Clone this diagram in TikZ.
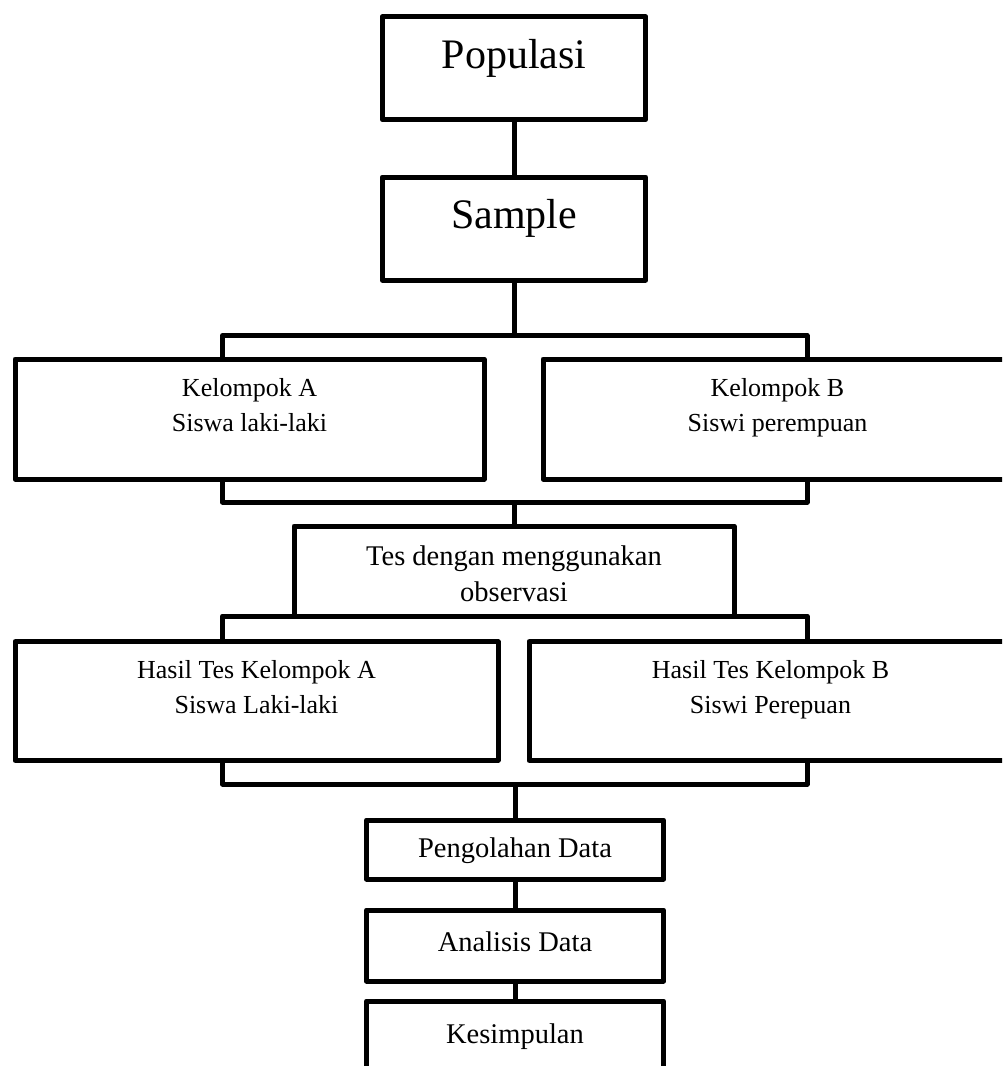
\documentclass[tikz,border=0pt]{standalone}
\usepackage{fontspec}
\setmainfont{Liberation Serif}
\begin{document}
\begin{tikzpicture}[x=1pt,y=-1pt,line join=round,
  box/.style={draw=black, line width=5pt, inner sep=0pt, outer sep=0pt},
  link/.style={draw=black, line width=5pt},
  tbig/.style={font=\fontsize{42}{48}\selectfont, inner sep=0pt, anchor=base},
  tmid/.style={font=\fontsize{28.5}{34}\selectfont, inner sep=0pt, anchor=base},
  tsml/.style={font=\fontsize{26}{31}\selectfont, inner sep=0pt, anchor=base}]
\useasboundingbox (0,0) rectangle (1002,1066);
\fill[white] (0,0) rectangle (1002,1066);
\clip (0,0) rectangle (1002,1066);

% boxes
\node[box, minimum width=263.5pt, minimum height=103pt] (pop) at (514,68.2) {};
\node[box, minimum width=263.5pt, minimum height=103pt] (sam) at (514,228.5) {};
\node[box, minimum width=469pt, minimum height=120pt] (kA) at (249.5,419) {};
\node[box, minimum width=469pt, minimum height=120pt] (kB) at (777.5,419) {};
\node[box, minimum width=440pt, minimum height=90pt] (tes) at (514,571) {};
\node[box, minimum width=483pt, minimum height=118.5pt] (hA) at (256.5,701) {};
\node[box, minimum width=483pt, minimum height=118.5pt] (hB) at (770.5,701) {};
\node[box, minimum width=297.3pt, minimum height=59pt] (peng) at (515,849.5) {};
\node[box, minimum width=297.3pt, minimum height=71pt] (ana) at (515,945.5) {};
\node[box, minimum width=297.3pt, minimum height=74pt] (kes) at (515,1038) {};

% texts
\node[tbig] (tPop) at (pop.center |- 0,68) {Populasi};
\node[tbig] (tSam) at (sam.center |- 0,228) {Sample};
\node[tsml] (tKA1) at (kA.center |- 0,396) {Kelompok A};
\node[tsml] (tKA2) at (kA.center |- 0,431.5) {Siswa laki-laki};
\node[tsml] (tKB1) at (kB.center |- 0,396) {Kelompok B};
\node[tsml] (tKB2) at (kB.center |- 0,431.5) {Siswi perempuan};
\node[tmid] (tTes1) at (tes.center |- 0,565) {Tes dengan menggunakan};
\node[tmid] (tTes2) at (tes.center |- 0,601.5) {observasi};
\node[tsml] (tHA1) at (hA.center |- 0,678.5) {Hasil Tes Kelompok A};
\node[tsml] (tHA2) at (hA.center |- 0,713) {Siswa Laki-laki};
\node[tsml] (tHB1) at (hB.center |- 0,678.5) {Hasil Tes Kelompok B};
\node[tsml] (tHB2) at (hB.center |- 0,713) {Siswi Perepuan};
\node[tmid] (tPeng) at (peng.center |- 0,857) {Pengolahan Data};
\node[tmid] (tAna) at (ana.center |- 0,951) {Analisis Data};
\node[tmid] (tKes) at (kes.center |- 0,1043) {Kesimpulan};

% bracket columns and junctions
\coordinate (bL) at (222.5,0);
\coordinate (bR) at (807,0);
\coordinate (j1) at (514,335.5);
\coordinate (j2) at (514,502);
\coordinate (j4) at (515,784);

% connectors
\draw[link] (pop.south) -- (sam.north);
\draw[link] (sam.south) -- (j1);
\draw[link] (kA.north -| bL) |- (j1) -| (kB.north -| bR);
\draw[link] (kA.south -| bL) |- (j2) -| (kB.south -| bR);
\draw[link] (j2) -- (tes.north);
\draw[link] (hA.north -| bL) |- (tes.south) -| (hB.north -| bR);
\draw[link] (hA.south -| bL) |- (j4) -| (hB.south -| bR);
\draw[link] (j4) -- (peng.north);
\draw[link] (peng.south) -- (ana.north);
\draw[link] (ana.south) -- (kes.north);
\end{tikzpicture}
\end{document}
